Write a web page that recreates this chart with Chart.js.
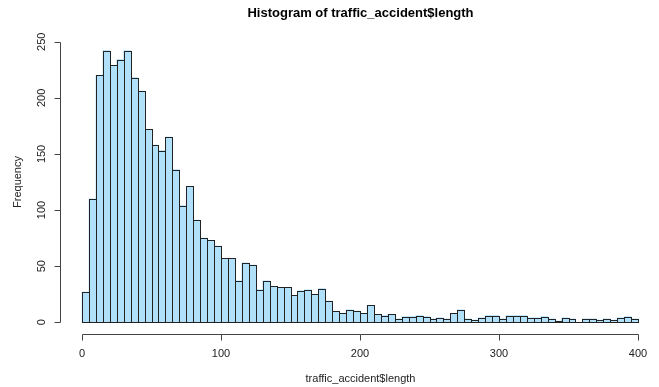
<!DOCTYPE html>
<html>
<head>
<meta charset="utf-8">
<script src="https://cdn.jsdelivr.net/npm/chart.js@4"></script>
<style>
    html, body { margin: 0; padding: 0; background: #fff; }
</style>
</head>
<body>
<canvas id="hist" width="659" height="387"></canvas>
<script>
// histogram of traffic_accident$length, bins of 5 from 0 to 400
const binWidth = 5;
const counts = [
    27, 110, 220, 242, 229, 234, 242, 218, 206, 172,
    158, 153, 165, 136, 104, 121, 91, 75, 73, 68,
    57, 57, 37, 53, 51, 29, 37, 32, 31, 31,
    24, 28, 29, 25, 30, 19, 10, 8, 11, 10,
    8, 15, 7, 6, 7, 3, 5, 5, 6, 5,
    3, 4, 3, 8, 11, 3, 2, 4, 6, 6,
    3, 6, 6, 6, 4, 4, 5, 3, 1, 4,
    3, 0, 3, 3, 2, 3, 2, 4, 5, 3
];
const binStarts = counts.map((_, i) => i * binWidth);
const xTicks = [0, 100, 200, 300, 400];
const yTicks = [0, 50, 100, 150, 200, 250];
const mainTitle = 'Histogram of traffic_accident$length';
const xLabel = 'traffic_accident$length';
const yLabel = 'Frequency';

const barFill = '#b0e0fa';
const ink = '#222';
const labelFont = '11px "Liberation Sans", Arial, sans-serif';

// R style: outlined rects, axes detached from the bars, rotated y labels
const rStyle = {
    id: 'rStyle',
    afterDatasetsDraw(chart) {
        const ctx = chart.ctx;
        const bars = chart.getDatasetMeta(0).data;
        ctx.save();
        ctx.strokeStyle = ink;
        ctx.lineWidth = 1;
        bars.forEach(bar => {
            const p = bar.getProps(['x', 'y', 'width', 'base'], true);
            const left = Math.round(p.x - p.width / 2) + 0.5;
            const right = Math.round(p.x + p.width / 2) + 0.5;
            const top = Math.round(p.y) + 0.5;
            const bottom = Math.round(p.base) + 0.5;
            ctx.strokeRect(left, top, right - left, bottom - top);
        });
        ctx.restore();
    },
    afterDraw(chart) {
        const ctx = chart.ctx;
        const area = chart.chartArea;
        const xs = chart.scales.x;
        const ys = chart.scales.y;
        const tick = 6;

        ctx.save();
        ctx.strokeStyle = '#444';
        ctx.lineWidth = 1;
        ctx.fillStyle = ink;
        ctx.font = labelFont;

        // x axis
        const axisY = Math.round(area.bottom) + 0.5;
        const x0 = Math.round(xs.getPixelForValue(xTicks[0])) + 0.5;
        const x1 = Math.round(xs.getPixelForValue(xTicks[xTicks.length - 1])) + 0.5;
        ctx.beginPath();
        ctx.moveTo(x0, axisY);
        ctx.lineTo(x1, axisY);
        xTicks.forEach(v => {
            const px = Math.round(xs.getPixelForValue(v)) + 0.5;
            ctx.moveTo(px, axisY);
            ctx.lineTo(px, axisY + tick);
        });
        ctx.stroke();
        ctx.textAlign = 'center';
        ctx.textBaseline = 'middle';
        xTicks.forEach(v => {
            ctx.fillText(String(v), xs.getPixelForValue(v), axisY + 19);
        });
        ctx.fillText(xLabel, (x0 + x1) / 2, axisY + 44);

        // y axis
        const axisX = Math.round(area.left) + 0.5;
        const y0 = Math.round(ys.getPixelForValue(yTicks[0])) + 0.5;
        const y1 = Math.round(ys.getPixelForValue(yTicks[yTicks.length - 1])) + 0.5;
        ctx.beginPath();
        ctx.moveTo(axisX, y0);
        ctx.lineTo(axisX, y1);
        yTicks.forEach(v => {
            const py = Math.round(ys.getPixelForValue(v)) + 0.5;
            ctx.moveTo(axisX, py);
            ctx.lineTo(axisX - tick, py);
        });
        ctx.stroke();
        yTicks.forEach(v => {
            ctx.save();
            ctx.translate(axisX - 19, ys.getPixelForValue(v));
            ctx.rotate(-Math.PI / 2);
            ctx.fillText(String(v), 0, 0);
            ctx.restore();
        });
        ctx.save();
        ctx.translate(axisX - 43, (area.top + area.bottom) / 2);
        ctx.rotate(-Math.PI / 2);
        ctx.fillText(yLabel, 0, 0);
        ctx.restore();

        // main title
        ctx.font = 'bold 13px "Liberation Sans", Arial, sans-serif';
        ctx.fillStyle = '#000';
        ctx.fillText(mainTitle, (x0 + x1) / 2, 13);
        ctx.restore();
    }
};

new Chart(document.getElementById('hist').getContext('2d'), {
    type: 'bar',
    data: {
        datasets: [{
            data: binStarts.map((s, i) => ({ x: s + binWidth / 2, y: counts[i] })),
            backgroundColor: barFill,
            borderWidth: 0,
            barPercentage: 1,
            categoryPercentage: 1
        }]
    },
    options: {
        responsive: false,
        animation: false,
        devicePixelRatio: 1,
        layout: { padding: { left: 60, right: 0, top: 30.5, bottom: 53.5 } },
        plugins: { legend: { display: false }, tooltip: { enabled: false } },
        scales: {
            x: { type: 'linear', min: -15.83, max: 415.1, offset: false, display: false },
            y: { min: -10, max: 260, display: false }
        }
    },
    plugins: [rStyle]
});
</script>
</body>
</html>
